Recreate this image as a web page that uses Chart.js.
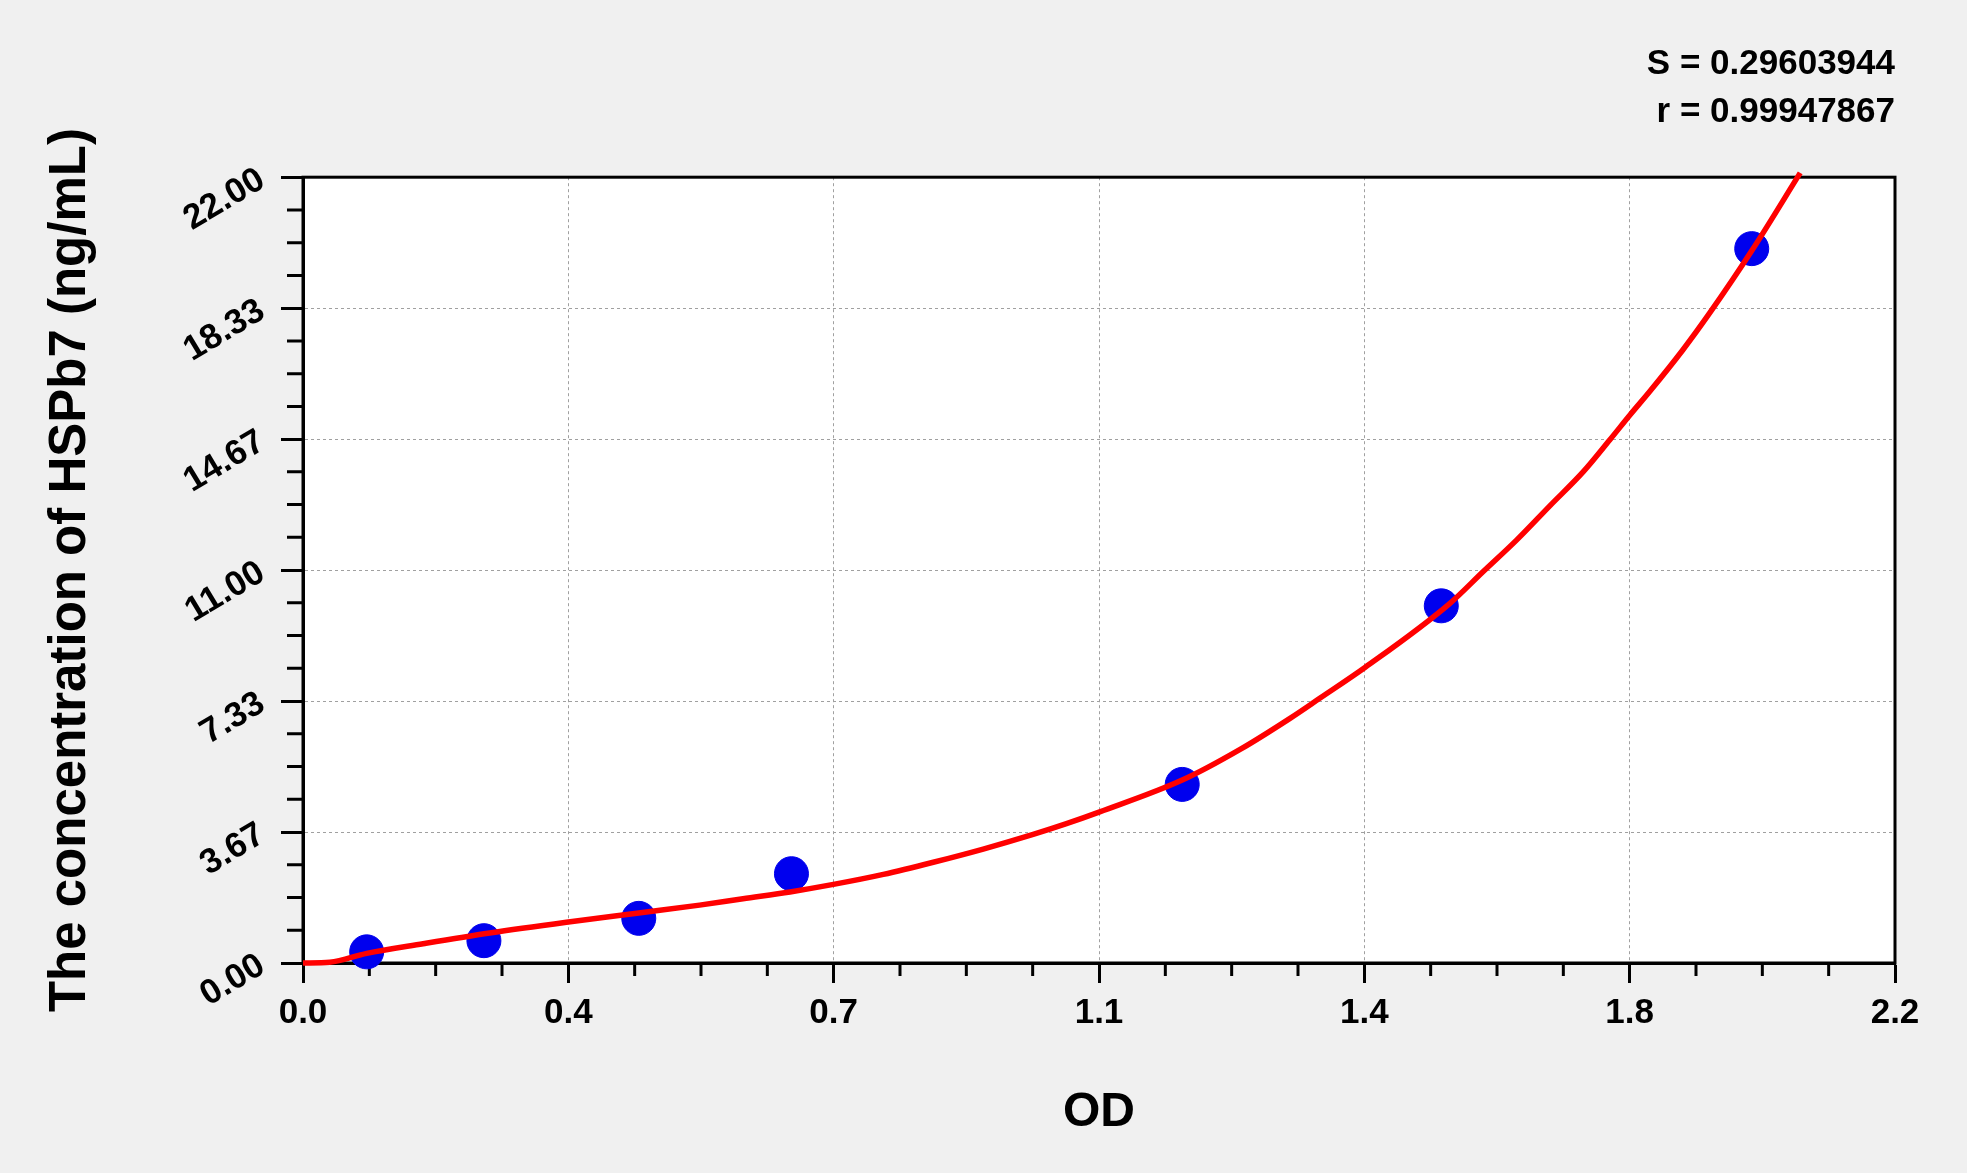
<!DOCTYPE html>
<html>
<head>
<meta charset="utf-8">
<title>HSPb7 standard curve</title>
<script src="https://cdn.jsdelivr.net/npm/chart.js@4.4.1/dist/chart.umd.min.js"></script>
<style>
  html, body { margin: 0; padding: 0; background: #f0f0f0; }
</style>
</head>
<body>
<canvas id="curve" width="1967" height="1173"></canvas>
<script>
// standards: OD reading vs concentration (ng/mL)
const odValues   = [0.088, 0.250, 0.464, 0.675, 1.215, 1.573, 2.002];
const concValues = [0.312, 0.625, 1.25, 2.5, 5, 10, 20];

// fitted curve
const fitOD   = [0, 0.037, 0.088, 0.166, 0.258, 0.364, 0.464, 0.548, 0.608, 0.673, 0.733,
                 0.802, 0.871, 0.940, 1.009, 1.055, 1.101, 1.215, 1.295, 1.364, 1.405,
                 1.468, 1.585, 1.631, 1.677, 1.723, 1.769, 1.806, 1.834, 1.861, 1.907,
                 1.944, 2.002, 2.069];
const fitConc = [0, 0.02, 0.27, 0.54, 0.84, 1.14, 1.40, 1.62, 1.80, 1.99, 2.20,
                 2.48, 2.82, 3.19, 3.60, 3.90, 4.23, 5.12, 5.98, 6.85, 7.41,
                 8.28, 10.07, 10.96, 11.84, 12.80, 13.75, 14.65, 15.35, 16.00, 17.17,
                 18.20, 19.94, 22.12];

// axis ticks (six equal steps, labels as printed)
const xTicks = [0, 0.36667, 0.73333, 1.1, 1.46667, 1.83333, 2.2];
const xTickLabels = ['0.0', '0.4', '0.7', '1.1', '1.4', '1.8', '2.2'];
const yTicks = [0, 3.66667, 7.33333, 11, 14.66667, 18.33333, 22];
const yTickLabels = ['0.00', '3.67', '7.33', '11.00', '14.67', '18.33', '22.00'];

const fitStats = ['S = 0.29603944', 'r = 0.99947867'];

const FONT = "'Liberation Sans', Arial, sans-serif";

// white plot area, black frame, minor ticks
const plotFrame = {
  id: 'plotFrame',
  beforeDraw(chart) {
    const {ctx, chartArea: a} = chart;
    ctx.save();
    ctx.fillStyle = '#f0f0f0';
    ctx.fillRect(0, 0, chart.width, chart.height);
    ctx.fillStyle = '#ffffff';
    ctx.fillRect(a.left, a.top, a.right - a.left, a.bottom - a.top);
    ctx.restore();
  },
  beforeDatasetsDraw(chart) {
    const {ctx, chartArea: a, scales} = chart;
    ctx.save();
    ctx.strokeStyle = '#000';
    ctx.lineWidth = 3;
    ctx.strokeRect(a.left, a.top, a.right - a.left, a.bottom - a.top);
    ctx.beginPath();
    for (let i = 0; i < xTicks.length - 1; i++) {
      for (let j = 1; j < 4; j++) {
        const px = scales.x.getPixelForValue(xTicks[i] + (xTicks[i + 1] - xTicks[i]) * j / 4);
        ctx.moveTo(px, a.bottom);
        ctx.lineTo(px, a.bottom + 13);
      }
    }
    for (let i = 0; i < yTicks.length - 1; i++) {
      for (let j = 1; j < 4; j++) {
        const py = scales.y.getPixelForValue(yTicks[i] + (yTicks[i + 1] - yTicks[i]) * j / 4);
        ctx.moveTo(a.left, py);
        ctx.lineTo(a.left - 16, py);
      }
    }
    ctx.stroke();
    ctx.restore();
  }
};

new Chart(document.getElementById('curve'), {
  type: 'scatter',
  data: {
    datasets: [
      {
        label: 'Fit',
        data: fitOD.map((v, i) => ({x: v, y: fitConc[i]})),
        showLine: true,
        borderColor: '#ff0000',
        borderWidth: 5.5,
        pointRadius: 0,
        cubicInterpolationMode: 'monotone',
        clip: false
      },
      {
        label: 'Standards',
        data: odValues.map((v, i) => ({x: v, y: concValues[i]})),
        backgroundColor: '#0000ee',
        borderColor: '#0000ee',
        borderWidth: 1,
        pointRadius: 17,
        clip: false
      }
    ]
  },
  options: {
    responsive: false,
    animation: false,
    events: [],
    layout: { padding: { left: 0, top: 0, right: 72, bottom: 0 } },
    plugins: {
      legend: { display: false },
      tooltip: { enabled: false },
      title: {
        display: true,
        text: fitStats,
        align: 'end',
        color: '#000',
        font: { family: FONT, size: 35, weight: 'bold', lineHeight: 1.36 },
        padding: { top: 41, bottom: 41 }
      }
    },
    scales: {
      x: {
        type: 'linear',
        min: 0,
        max: 2.2,
        afterFit: s => { s.height = 210; },
        afterBuildTicks: s => { s.ticks = xTicks.map(v => ({value: v})); },
        ticks: {
          autoSkip: false,
          maxRotation: 0,
          padding: 9,
          color: '#000',
          font: { family: FONT, size: 35, weight: 'bold' },
          callback: (v, i) => xTickLabels[i]
        },
        grid: { color: '#a0a0a0', lineWidth: 1, tickLength: 20, tickColor: '#000', tickWidth: 3 },
        border: { display: true, color: '#000', width: 3, dash: [3, 3] },
        title: {
          display: true,
          text: 'OD',
          color: '#000',
          font: { family: FONT, size: 48, weight: 'bold' },
          padding: { top: 0, bottom: 31 }
        }
      },
      y: {
        type: 'linear',
        min: 0,
        max: 22,
        afterFit: s => { s.width = 303; },
        afterBuildTicks: s => { s.ticks = yTicks.map(v => ({value: v})); },
        ticks: {
          autoSkip: false,
          minRotation: 31,
          maxRotation: 31,
          padding: 19,
          color: '#000',
          font: { family: FONT, size: 35, weight: 'bold' },
          callback: (v, i) => yTickLabels[i]
        },
        grid: { color: '#a0a0a0', lineWidth: 1, tickLength: 22, tickColor: '#000', tickWidth: 3 },
        border: { display: true, color: '#000', width: 3, dash: [3, 3] },
        title: {
          display: true,
          text: 'The concentration of HSPb7 (ng/mL)',
          color: '#000',
          font: { family: FONT, size: 51, weight: 'bold' },
          padding: { top: 40, bottom: 0 }
        }
      }
    }
  },
  plugins: [plotFrame]
});
</script>
</body>
</html>
